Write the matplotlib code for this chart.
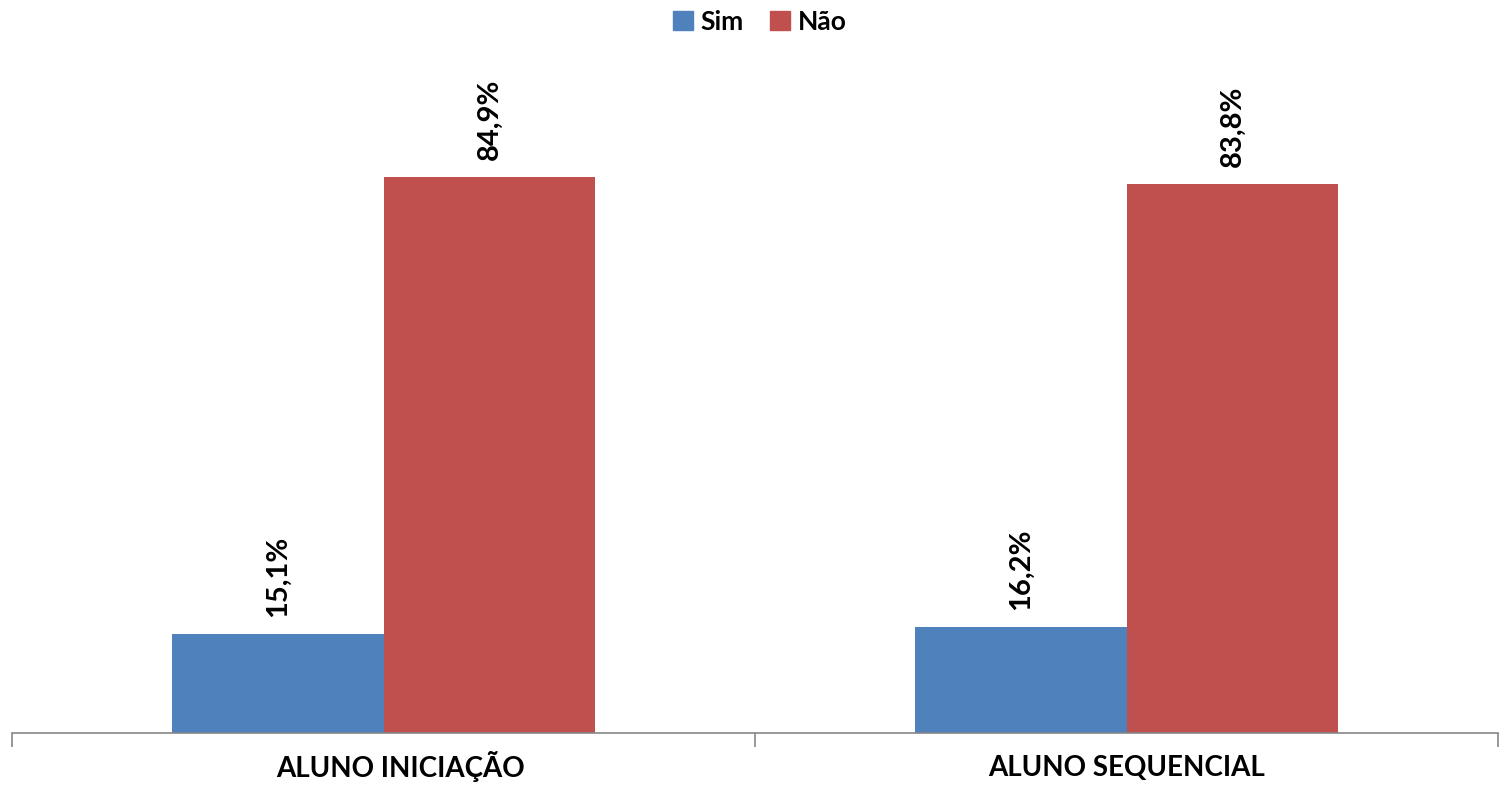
import matplotlib
matplotlib.use("Agg")
import matplotlib.pyplot as plt
import matplotlib.transforms as mtransforms
from matplotlib.patches import Patch

categories = ["ALUNO INICIAÇÃO", "ALUNO SEQUENCIAL"]
series_names = ["Sim", "Não"]
sim_values = [15.1, 16.2]
nao_values = [84.9, 83.8]
value_labels_sim = ["15,1%", "16,2%"]
value_labels_nao = ["84,9%", "83,8%"]

colors = {"Sim": "#4F81BD", "Não": "#C0504D"}
FONT = "Lato"

fig = plt.figure(figsize=(15.05, 7.88), dpi=100)
ax = fig.add_axes([12 / 1505, 55 / 788, 1486 / 1505, 655 / 788])

x = list(range(len(categories)))
w = 0.2853
xs_sim = [xi - w / 2 for xi in x]
xs_nao = [xi + w / 2 for xi in x]
ax.bar(xs_sim, sim_values, width=w, color=colors["Sim"], label="Sim")
ax.bar(xs_nao, nao_values, width=w, color=colors["Não"], label="Não")

for xs, vals, labs in ((xs_sim, sim_values, value_labels_sim), (xs_nao, nao_values, value_labels_nao)):
    for xi, v, lab in zip(xs, vals, labs):
        ax.annotate(lab, (xi, v), xytext=(0, 12), textcoords="offset points",
                    rotation=90, ha="center", va="bottom", fontsize=21,
                    fontweight="bold", family=FONT, color="black")

ax.set_xlim(-0.5, 1.5)
ax.set_ylim(0, 100)
for s in ("left", "right", "top"):
    ax.spines[s].set_visible(False)
ax.spines["bottom"].set_color("#868686")
ax.spines["bottom"].set_linewidth(1.2)
ax.set_yticks([])
ax.set_xticks(x)
ax.set_xticklabels(categories, fontsize=20, fontweight="bold", family=FONT)
ax.tick_params(axis="x", which="major", length=0, pad=13)
ax.set_xticks([-0.5, 0.5, 1.5], minor=True)
ax.tick_params(axis="x", which="minor", length=10, width=1.2, color="#868686", direction="out")

labels = ax.get_xticklabels()
labels[0].set_transform(labels[0].get_transform() + mtransforms.ScaledTranslation(17 / 100, 0, fig.dpi_scale_trans))
labels[1].set_transform(labels[1].get_transform() + mtransforms.ScaledTranslation(0, -4 / 100, fig.dpi_scale_trans))

handles = [Patch(color=colors[n], label=n) for n in series_names]
fig.legend(handles=handles, loc="upper center", bbox_to_anchor=(760 / 1505, 1.018), ncol=2,
           frameon=False, handlelength=0.75, handleheight=0.75, handletextpad=0.3,
           columnspacing=1.0, prop={"family": FONT, "weight": "bold", "size": 19})

fig.savefig("out.png", dpi=100, facecolor="white")
